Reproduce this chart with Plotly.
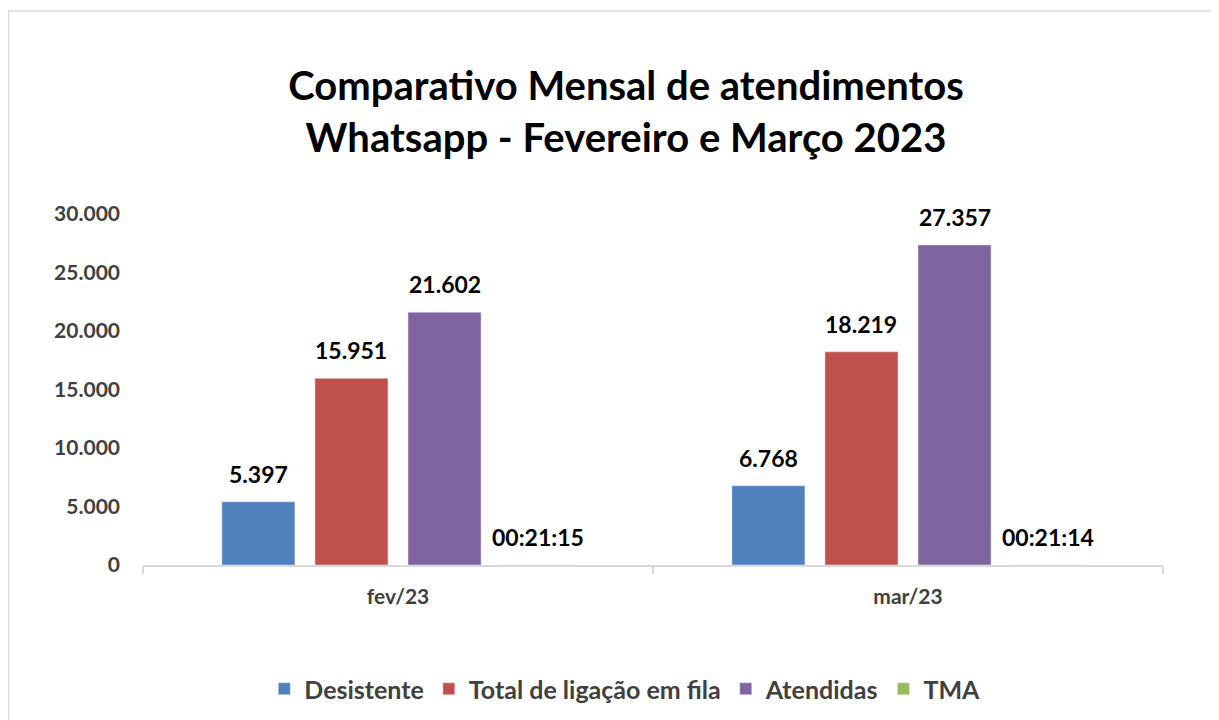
import plotly.graph_objects as go

categories = ["fev/23", "mar/23"]
desistente = [5397, 6768]
total_fila = [15951, 18219]
atendidas = [21602, 27357]
tma_days = [1275 / 86400, 1274 / 86400]
tma_labels = ["00:21:15", "00:21:14"]
y_ticks = [0, 5000, 10000, 15000, 20000, 25000, 30000]

FONT = "Lato"
OFF = 8  # page body margin
W, H = 1219 - OFF, 720 - OFF
L, R = 143 - OFF, W - (1163 - OFF)
T, B = 214 - OFF, H - (565 - OFF)
pw, ph = W - L - R, H - T - B
BARGAP = 0.27
GROUPGAP = 0.215

def px_x(p):
    return (p - OFF - L) / pw

def px_y(p):
    return (H - B - (p - OFF)) / ph

fmt = lambda v: f"{v:,d}".replace(",", ".")

series = [
    ("Desistente", desistente, "#4F81BD", [fmt(v) for v in desistente]),
    ("Total de ligação em fila", total_fila, "#C0504D", [fmt(v) for v in total_fila]),
    ("Atendidas", atendidas, "#8064A2", [fmt(v) for v in atendidas]),
    ("TMA", tma_days, "#9BBB59", tma_labels),
]

fig = go.Figure()
n = len(series)
cat_px = pw / len(categories)
slot_px = (1 - BARGAP) * cat_px / n
annotations = []
for i, (name, vals, color, labels) in enumerate(series):
    fig.add_trace(go.Bar(x=categories, y=vals, name=name, marker_color=color))
    for c, v, lab in zip(categories, vals, labels):
        annotations.append(dict(x=c, y=v, xref="x", yref="y", text=f"<b>{lab}</b>",
                                showarrow=False, xshift=(i - (n - 1) / 2) * slot_px,
                                yanchor="middle", yshift=28,
                                font=dict(family=FONT, size=23, color="#000000")))

fig.update_layout(
    width=W, height=H,
    separators=",.",
    barmode="group",
    bargap=BARGAP,
    bargroupgap=GROUPGAP,
    plot_bgcolor="white",
    paper_bgcolor="white",
    margin=dict(l=L, r=R, t=T, b=B, autoexpand=False),
    title=dict(text="<b>Comparativo Mensal de atendimentos<br>Whatsapp - Fevereiro e Março 2023</b>",
               x=(626 - OFF) / W, xanchor="center", y=1 - (100 - OFF) / H, yanchor="middle",
               font=dict(family=FONT, size=40, color="#000000")),
    legend=dict(orientation="h", x=(580 - OFF) / W, xanchor="center", y=px_y(689), yanchor="middle",
                xref="paper", font=dict(family=FONT, size=25, color="#404040", weight="bold"),
                traceorder="normal"),
    xaxis=dict(showline=True, linecolor="#D9D9D9", linewidth=1.5, ticks="outside",
               tickson="boundaries", tickcolor="#D9D9D9", ticklen=7, tickwidth=1.5,
               tickfont=dict(family=FONT, size=21, color="#404040", weight="bold"),
               ticklabelstandoff=12),
    yaxis=dict(range=[0, 30000], tickvals=y_ticks, tickformat=",d", showgrid=False,
               zeroline=False, showline=False,
               tickfont=dict(family=FONT, size=21, color="#404040", weight="bold"),
               ticklabelstandoff=22),
    annotations=annotations,
    shapes=[dict(type="rect", xref="paper", yref="paper",
                 x0=px_x(8.5), x1=px_x(1240), y0=px_y(740), y1=px_y(11),
                 line=dict(color="#D9D9D9", width=1.5), fillcolor="rgba(0,0,0,0)",
                 layer="below")],
)

fig.write_html("out.html")
